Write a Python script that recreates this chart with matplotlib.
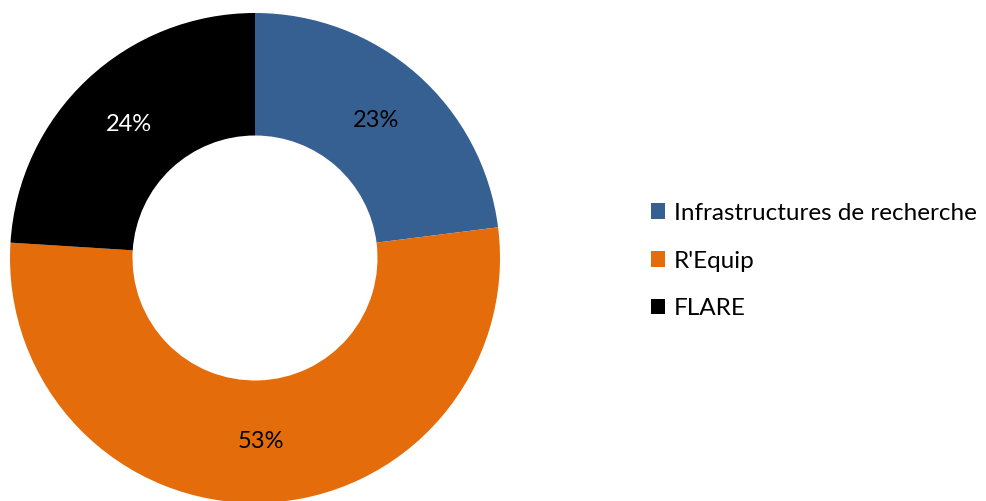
import matplotlib
matplotlib.use("Agg")
import matplotlib.pyplot as plt
from matplotlib.patches import Patch

labels = ["Infrastructures de recherche", "R'Equip", "FLARE"]
shares = [23, 53, 24]
colors = ["#376092", "#E46C0A", "#000000"]
text_colors = ["black", "black", "white"]

plt.rcParams['font.family'] = ['Lato', 'DejaVu Sans']

W, H = 986, 501
fig = plt.figure(figsize=(W / 100, H / 100), dpi=100)

# axes du donut placé en pixels (centre ~ (255, 258), rayon ~ 245)
cx, cy, r = 255, 258, 245
ax = fig.add_axes([(cx - r) / W, (H - cy - r) / H, 2 * r / W, 2 * r / H])
wedges, texts, autotexts = ax.pie(
    shares, colors=colors, startangle=90, counterclock=False,
    radius=1, pctdistance=0.75, autopct='%1.0f%%',
    wedgeprops=dict(width=0.5, linewidth=0),
    textprops=dict(fontsize=17))
for t, c in zip(autotexts, text_colors):
    t.set_color(c)
ax.set_xlim(-1, 1)
ax.set_ylim(-1, 1)
ax.set_aspect('equal')
ax.axis('off')

handles = [Patch(facecolor=c, edgecolor='none') for c in colors]
fig.legend(handles, labels, loc='center left', bbox_to_anchor=(629 / W, 1 - 261 / H),
           frameon=False, fontsize=17.5, handlelength=0.6, handleheight=0.6,
           handletextpad=0.35, labelspacing=1.1)

fig.savefig("out.png", dpi=100)
